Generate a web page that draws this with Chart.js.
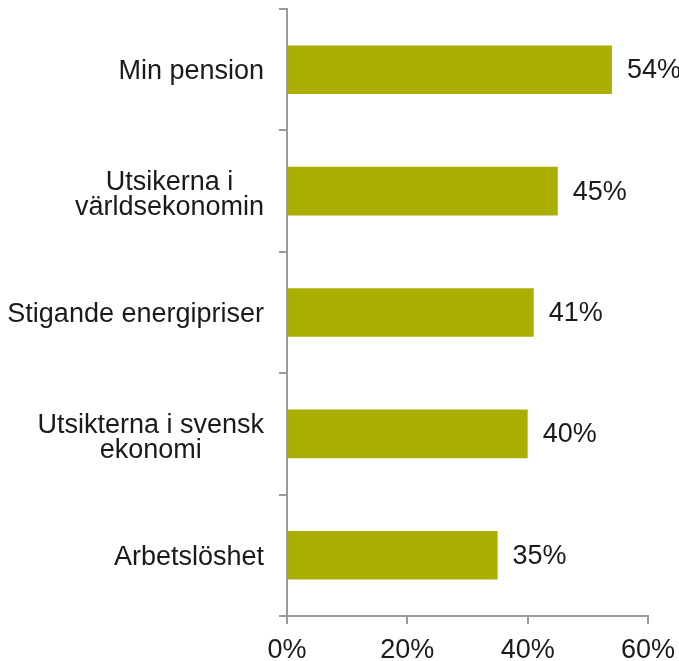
<!DOCTYPE html>
<html>
<head>
<meta charset="utf-8">
<script src="https://cdn.jsdelivr.net/npm/chart.js@4/dist/chart.umd.min.js"></script>
<style>
  html, body { margin: 0; padding: 0; background: #fff; }
  #chart-container { width: 679px; height: 661px; }
</style>
</head>
<body>
<div id="chart-container">
  <canvas id="worry-chart" width="679" height="661"></canvas>
</div>
<script>
// categories, each one a list of label lines
var categories = [
    ['Min pension'],
    ['Utsikerna i', 'världsekonomin'],
    ['Stigande energipriser'],
    ['Utsikterna i svensk', 'ekonomi'],
    ['Arbetslöshet']
];
var values = [54, 45, 41, 40, 35];
var xTicks = [0, 20, 40, 60];

var barColor = '#A9AE00';
var axisColor = '#9a9a9a';
var textColor = '#1a1a1a';
var fontFamily = '"Liberation Sans", Arial, sans-serif';
var fontSize = 27;

Chart.defaults.font.family = fontFamily;
Chart.defaults.color = textColor;

// y labels: right aligned block, lines centred inside the block
var categoryLabels = {
    id: 'categoryLabels',
    afterDraw: function(chart) {
        var ctx = chart.ctx;
        var yScale = chart.scales.y;
        var rightEdge = 264;
        var lineH = 25;
        ctx.save();
        ctx.font = fontSize + 'px ' + fontFamily;
        ctx.fillStyle = textColor;
        ctx.textAlign = 'center';
        ctx.textBaseline = 'middle';
        categories.forEach(function(lines, i) {
            var widest = 0;
            lines.forEach(function(l) {
                widest = Math.max(widest, ctx.measureText(l).width);
            });
            var cx = rightEdge - widest / 2;
            var cy = yScale.getPixelForValue(i) + 2;
            if (lines.length > 1) cy += 2;
            var start = cy - (lines.length - 1) * lineH / 2;
            lines.forEach(function(l, k) {
                ctx.fillText(l, cx, start + k * lineH);
            });
        });
        ctx.restore();
    }
};

// value labels after each bar
var valueLabels = {
    id: 'valueLabels',
    afterDatasetsDraw: function(chart) {
        var ctx = chart.ctx;
        var meta = chart.getDatasetMeta(0);
        ctx.save();
        ctx.font = fontSize + 'px ' + fontFamily;
        ctx.fillStyle = textColor;
        ctx.textAlign = 'left';
        ctx.textBaseline = 'middle';
        meta.data.forEach(function(bar, i) {
            ctx.fillText(values[i] + '%', bar.x + 15, bar.y + 1);
        });
        ctx.restore();
    }
};

var ctx = document.getElementById('worry-chart');
var chart = new Chart(ctx, {
    type: 'bar',
    data: {
        labels: categories.map(function(c) { return c.join(' '); }),
        datasets: [{
            data: values,
            backgroundColor: barColor,
            borderWidth: 0,
            categoryPercentage: 1,
            barPercentage: 0.4
        }]
    },
    options: {
        indexAxis: 'y',
        responsive: false,
        animation: false,
        layout: {
            padding: { top: 9, right: 31, left: 0, bottom: 0 }
        },
        plugins: {
            legend: { display: false },
            tooltip: { enabled: false }
        },
        scales: {
            x: {
                min: xTicks[0],
                max: xTicks[xTicks.length - 1],
                afterBuildTicks: function(scale) {
                    scale.ticks = xTicks.map(function(v) { return { value: v }; });
                },
                afterFit: function(scale) {
                    scale.height = 45;
                    // let the last tick label run off the edge, as in the original
                    scale.paddingLeft = 0;
                    scale.paddingRight = 0;
                },
                border: { color: axisColor, width: 2 },
                grid: {
                    drawOnChartArea: false,
                    drawTicks: true,
                    tickLength: 8,
                    color: axisColor,
                    lineWidth: 2
                },
                ticks: {
                    padding: 10,
                    color: textColor,
                    font: { size: fontSize, lineHeight: 1.2 },
                    maxRotation: 0,
                    callback: function(v) { return v + '%'; }
                }
            },
            y: {
                afterFit: function(scale) { scale.width = 287; },
                border: { color: axisColor, width: 2 },
                grid: {
                    offset: true,
                    drawOnChartArea: false,
                    drawTicks: true,
                    tickLength: 8,
                    color: axisColor,
                    lineWidth: 2
                },
                ticks: { display: false }
            }
        }
    },
    plugins: [categoryLabels, valueLabels]
});
</script>
</body>
</html>
